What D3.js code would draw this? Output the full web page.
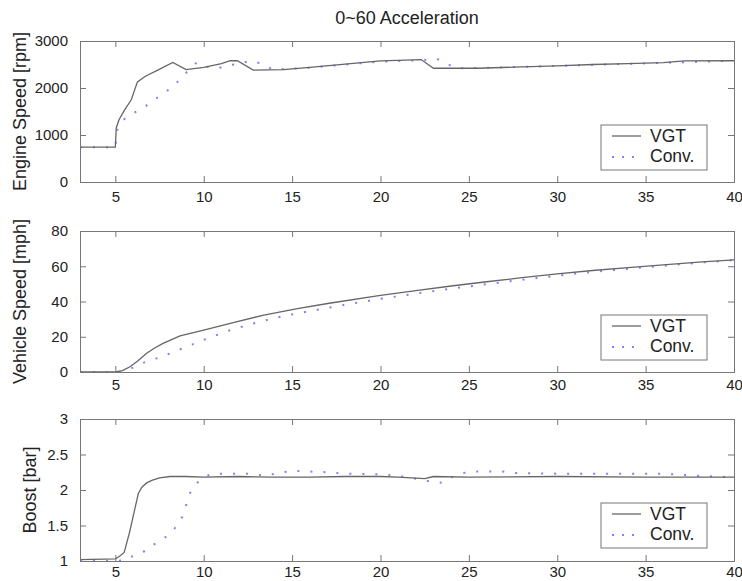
<!DOCTYPE html>
<html><head><meta charset="utf-8">
<script src="https://cdn.jsdelivr.net/npm/d3@7"></script>
<style>body{margin:0;background:#fff}svg{display:block}text{font-family:"Liberation Sans",Arial,Helvetica,sans-serif;fill:#222}</style>
</head><body><svg id="c" width="742" height="581"></svg>
<script>
const titleText = "0~60 Acceleration";
const xTicks = [5,10,15,20,25,30,35,40];
const seriesNames = ["VGT","Conv."];

// Engine speed [rpm]
const engineYTicks = [0,1000,2000,3000];
const engineVgtT = [3,3.02,5.0,5.05,5.2,5.5,5.9,6.25,6.7,7.4,8.25,9.0,10.0,11.0,11.5,11.9,12.8,14.5,16,18,20,22.3,23.0,25.5,28,30,32,34,36,37.2,40];
const engineVgtV = [850,740,740,1150,1320,1520,1750,2130,2250,2380,2545,2390,2440,2520,2580,2580,2380,2390,2440,2510,2575,2605,2420,2420,2450,2470,2500,2520,2540,2575,2580];
const engineConvT = [3,5.0,5.1,5.2,5.6,6.2,6.74,7.25,7.8,8.35,8.75,9.2,9.6,10.2,10.8,11.5,12.1,12.6,13.3,13.9,16,18,20,22.3,23.2,23.8,24.4,26,30,35,40];
const engineConvV = [740,740,1100,1190,1380,1500,1620,1765,1900,2060,2225,2400,2540,2450,2420,2490,2520,2580,2520,2390,2430,2500,2560,2590,2620,2500,2420,2430,2470,2525,2580];

// Vehicle speed [mph]
const vehicleYTicks = [0,20,40,60,80];
const vehicleVgtT = [3,5.0,5.4,5.83,6.3,6.77,7.2,7.7,8.66,10,11.5,13.4,15.3,17.1,20,22,24,26,28,30,32,34,36,38,40];
const vehicleVgtV = [0,0,0.8,3,6.5,10.6,13.5,16.2,20.5,23.8,27.6,32.3,36,39,43.5,46.2,48.8,51.2,53.5,55.7,57.6,59.2,60.8,62.3,63.6];
const vehicleConvT = [3,5.3,5.8,6.5,7.7,8.95,10.2,11.4,12.6,13.9,15.3,16.6,18,20,22,24,26,28,30,32,34,36,38,40];
const vehicleConvV = [0,0,1.5,4.9,9,14,19,23.4,27,30.4,33.3,35.6,38.2,41.5,44.5,47.3,49.8,52.3,54.7,56.8,58.6,60.3,62,63.5];

// Boost [bar]
const boostYTicks = [1,1.5,2,2.5,3];
const boostVgtT = [3,5.0,5.2,5.5,5.8,6.1,6.3,6.5,6.77,7.1,7.5,8.1,9,10,12,14,16,18,20,21,22.5,23,25,30,35,40];
const boostVgtV = [1.02,1.03,1.06,1.12,1.4,1.73,1.95,2.04,2.1,2.14,2.17,2.19,2.19,2.18,2.19,2.18,2.18,2.19,2.19,2.18,2.16,2.19,2.18,2.19,2.18,2.18];
const boostConvT = [3,5.0,5.5,5.9,6.5,7.0,7.6,8.1,8.5,8.8,9.0,9.15,9.4,9.9,10.5,12.5,13.5,14.2,15,16,17,18,20,21,22,22.8,23.5,24.1,24.7,25.3,26.9,27.5,30,36,37.9,40];
const boostConvV = [1.0,1.0,1.01,1.06,1.11,1.21,1.29,1.39,1.5,1.63,1.78,1.92,2.04,2.17,2.23,2.23,2.2,2.24,2.27,2.26,2.25,2.23,2.22,2.2,2.16,2.12,2.1,2.19,2.24,2.26,2.26,2.24,2.23,2.23,2.2,2.18];

const panels = [
  {label:"Engine Speed [rpm]", top:41, bottom:182, domain:[0,3000], ticks:engineYTicks, vt:engineVgtT, vv:engineVgtV, ct:engineConvT, cv:engineConvV, labelX:20, pad:9},
  {label:"Vehicle Speed [mph]", top:231, bottom:372, domain:[0,80], ticks:vehicleYTicks, vt:vehicleVgtT, vv:vehicleVgtV, ct:vehicleConvT, cv:vehicleConvV, labelX:20, pad:7},
  {label:"Boost [bar]", top:419, bottom:561, domain:[1,3], ticks:boostYTicks, vt:boostVgtT, vv:boostVgtV, ct:boostConvT, cv:boostConvV, labelX:30, pad:5}
];

const svg = d3.select("#c");
const x = d3.scaleLinear().domain([3,40]).range([80,734]);
const axisColor = "#777";
const vgtColor = "#666";
const convColor = "#7f7fff";
const plain = d => String(d);

svg.append("text").attr("x",407).attr("y",24).attr("text-anchor","middle")
  .style("font-size","18px").text(titleText);

panels.forEach((p,i)=>{
  const y = d3.scaleLinear().domain(p.domain).range([p.bottom,p.top]);
  const g = svg.append("g");
  const cid = "clip"+i;
  svg.append("clipPath").attr("id",cid).append("rect")
    .attr("x",80).attr("y",p.top-1).attr("width",654).attr("height",p.bottom-p.top+2);

  const line = d3.line().x(d=>x(d[0])).y(d=>y(d[1]));
  const vgt = p.vt.map((t,k)=>[t,p.vv[k]]);
  const conv = p.ct.map((t,k)=>[t,p.cv[k]]);
  g.append("path").attr("clip-path",`url(#${cid})`).attr("d",line(conv)).attr("fill","none")
    .attr("stroke",convColor).attr("stroke-width",2).attr("stroke-dasharray","2,11");
  g.append("path").attr("clip-path",`url(#${cid})`).attr("d",line(vgt)).attr("fill","none")
    .attr("stroke",vgtColor).attr("stroke-width",1.3);

  const bottomAx = d3.axisBottom(x).tickValues(xTicks).tickSize(-6).tickPadding(p.pad).tickFormat(plain);
  const topAx = d3.axisTop(x).tickValues(xTicks).tickSize(-6).tickFormat("");
  const leftAx = d3.axisLeft(y).tickValues(p.ticks).tickSize(-6).tickPadding(12).tickFormat(plain);
  const rightAx = d3.axisRight(y).tickValues(p.ticks).tickSize(-6).tickFormat("");
  const axes = [
    g.append("g").attr("transform",`translate(0,${p.bottom})`).call(bottomAx),
    g.append("g").attr("transform",`translate(0,${p.top})`).call(topAx),
    g.append("g").attr("transform",`translate(80,0)`).call(leftAx),
    g.append("g").attr("transform",`translate(734,0)`).call(rightAx)
  ];
  axes.forEach(a=>{
    a.select(".domain").attr("stroke",axisColor);
    a.selectAll(".tick line").attr("stroke",axisColor);
    a.selectAll(".tick text").style("font-size","15px").attr("fill","#111")
      .style("font-family",'"Liberation Sans",Arial,sans-serif');
  });

  svg.append("text").attr("transform",`translate(${p.labelX},${(p.top+p.bottom)/2}) rotate(-90)`)
    .attr("text-anchor","middle").attr("dy","0.35em").style("font-size","18px").text(p.label);

  const lx = 601, ly = p.top + 84;
  const lg = svg.append("g");
  lg.append("rect").attr("x",lx).attr("y",ly).attr("width",106).attr("height",45)
    .attr("fill","#fff").attr("stroke",axisColor).attr("stroke-width",1);
  lg.append("line").attr("x1",lx+11).attr("x2",lx+40).attr("y1",ly+11).attr("y2",ly+11)
    .attr("stroke",vgtColor).attr("stroke-width",1.3);
  lg.append("line").attr("x1",lx+11).attr("x2",lx+40).attr("y1",ly+32).attr("y2",ly+32)
    .attr("stroke",convColor).attr("stroke-width",2).attr("stroke-dasharray","2,8");
  lg.append("text").attr("x",lx+49).attr("y",ly+11).attr("dy","0.35em").style("font-size","17.5px").text(seriesNames[0]);
  lg.append("text").attr("x",lx+49).attr("y",ly+31).attr("dy","0.35em").style("font-size","17.5px").text(seriesNames[1]);
});
</script></body></html>
